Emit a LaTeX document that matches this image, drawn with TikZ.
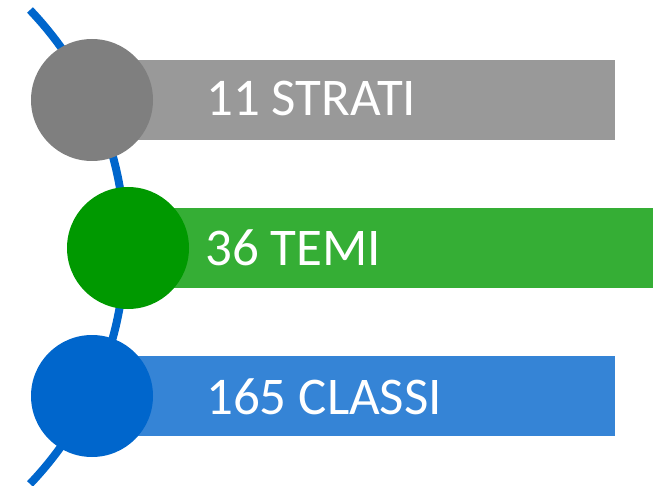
\documentclass[tikz,border=0pt]{standalone}
\usepackage{fontspec}
\setmainfont{Carlito}
\definecolor{grayBar}{HTML}{999999}
\definecolor{grayDot}{HTML}{7F7F7F}
\definecolor{greenBar}{HTML}{35AE35}
\definecolor{greenDot}{HTML}{009900}
\definecolor{blueBar}{HTML}{3584D6}
\definecolor{blueDot}{HTML}{0066CC}
\begin{document}
\begin{tikzpicture}[x=1pt,y=-1pt,
  bar/.style={rectangle, inner sep=0pt, minimum height=80pt, anchor=west},
  dot/.style={circle, inner sep=0pt, minimum size=122pt},
  label/.style={anchor=base west, inner sep=0pt, text=white, font=\fontsize{53}{53}\selectfont}]
\useasboundingbox (0,0) rectangle (661,486);
% arc line
\coordinate (arcTop) at (30,10);
\draw[blueDot, line width=8pt] (arcTop) arc[start angle=43.7, end angle=-43.7, radius=343pt];
% bars
\node[bar, fill=grayBar, minimum width=495pt] (bar1) at (120,100) {};
\node[bar, fill=greenBar, minimum width=525pt] (bar2) at (128,248) {};
\node[bar, fill=blueBar, minimum width=495pt] (bar3) at (120,396) {};
% circles
\node[dot, fill=grayDot] (dot1) at (92,100) {};
\node[dot, fill=greenDot] (dot2) at (128,248) {};
\node[dot, fill=blueDot] (dot3) at (92,396) {};
% labels
\node[label] (t1) at (206,116) {11 STRATI};
\node[label] (t2) at (205,266) {36 TEMI};
\node[label] (t3) at (206,414) {165 CLASSI};
\end{tikzpicture}
\end{document}
